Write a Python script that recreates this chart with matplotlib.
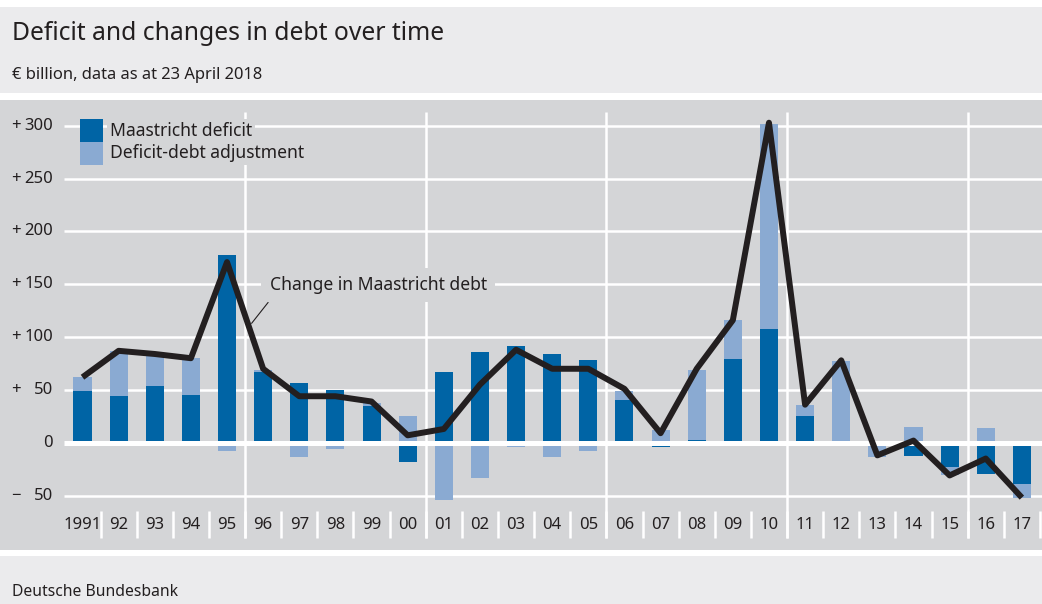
import matplotlib
matplotlib.use("Agg")
import matplotlib.pyplot as plt
import matplotlib.transforms as mtransforms
from matplotlib.patches import Rectangle
import numpy as np

plt.rcParams['font.family'] = ['Noto Sans', 'DejaVu Sans']

# data (EUR bn)
years = np.arange(1991, 2018)
year_labels = ["1991"] + ["%02d" % (y % 100) for y in years[1:]]
deficit = np.array([49, 44, 54, 45, 178, 67, 57, 50, 35, -18, 67, 86, 92, 84, 78,
                    40, -4, 3, 79, 108, 25, 0, 2, -13, -23, -30, -39])
adjustment = np.array([13, 43, 29, 35, -8, 2, -14, -6, 3, 25, -54, -33, -4, -14, -8,
                       9, 12, 66, 37, 194, 11, 77, -14, 15, -8, 14, -13])
debt_change = np.array([62, 87, 84, 80, 171, 70, 44, 44, 39, 7, 13, 55, 88, 70, 70,
                        51, 9, 70, 116, 303, 36, 78, -12, 2, -31, -15, -52])
yticks = [-50, 0, 50, 100, 150, 200, 250, 300]

DARK = "#0064a5"
LIGHT = "#8aaad2"
PLOT_BG = "#d4d5d7"
BAND = "#ebebed"
TXT = "#231f20"

W, H = 1042, 604
fig = plt.figure(figsize=(W / 100, H / 100), dpi=100)
fig.patch.set_facecolor("white")

# header and footer bands
fig.add_artist(Rectangle((0, 1 - 93 / H), 1, 86 / H, transform=fig.transFigure,
                         facecolor=BAND, edgecolor="none", zorder=0))
fig.add_artist(Rectangle((0, 0), 1, 48 / H, transform=fig.transFigure,
                         facecolor=BAND, edgecolor="none", zorder=0))
fig.text(12 / W, 1 - 33 / H, "Deficit and changes in debt over time", fontsize=17.8,
         color=TXT, va="center", ha="left")
fig.text(12 / W, 1 - 75 / H, "€ billion, data as at 23 April 2018", fontsize=11.9,
         color=TXT, va="center", ha="left")
fig.text(12 / W, 1 - 592 / H, "Deutsche Bundesbank", fontsize=11.3,
         color=TXT, va="center", ha="left")

ax = fig.add_axes([0, 54 / H, 1, 450 / H])
ax.set_facecolor(PLOT_BG)
for s in ax.spines.values():
    s.set_visible(False)
ax.set_xticks([])
ax.set_yticks([])

px_per_year = 36.13
x0 = 1991 - 82.5 / px_per_year
ax.set_xlim(x0, x0 + W / px_per_year)
ax.set_ylim(-101.6, 324.5)

# grid
for v in yticks:
    if v == 0:
        continue
    ax.hlines(v, 1990.5, 2020, color="white", lw=1.8, zorder=1)
for b in [1995.5, 2000.5, 2005.5, 2010.5, 2015.5]:
    ax.vlines(b, -89.8, 313, color="white", lw=1.8, zorder=1)
for b in years + 0.5:
    ax.vlines(b, -89.8, -64.7, color="white", lw=1.8, zorder=1)

# bars
ax.bar(years, deficit, width=0.5, color=DARK, zorder=2)
same_sign = np.sign(adjustment) == np.sign(deficit)
bottom = np.where(same_sign, deficit, 0)
ax.bar(years, adjustment, width=0.5, bottom=bottom, color=LIGHT, zorder=2)

ax.hlines(0, 1990.5, 2020, color="white", lw=3.6, zorder=3)

# line
ax.plot(years, debt_change, color=TXT, lw=4.3, solid_joinstyle="round",
        solid_capstyle="butt", zorder=5)

# y tick labels
tr = mtransforms.blended_transform_factory(ax.transAxes, ax.transData)
for v in yticks:
    ax.text(53 / W, v, str(abs(v)), transform=tr, ha="right", va="center",
            fontsize=12, color=TXT)
    if v != 0:
        ax.text(11 / W, v, "+" if v > 0 else "\u2212", transform=tr, ha="left",
                va="center", fontsize=12, color=TXT)

# x labels
for y, lab in zip(years, year_labels):
    ax.text(y, -77.5, lab, ha="center", va="center", fontsize=12, color=TXT)

# legend
ax.add_patch(Rectangle((1990.93, 285.1), 0.64, 21.2, facecolor=DARK, edgecolor="none", zorder=6))
ax.add_patch(Rectangle((1990.93, 263.3), 0.64, 21.8, facecolor=LIGHT, edgecolor="none", zorder=6))
ax.text(1991.76, 295.5, "Maastricht deficit", ha="left", va="center", fontsize=12.6,
        color=TXT, zorder=6,
        bbox=dict(facecolor=PLOT_BG, edgecolor="none", pad=2))
ax.text(1991.76, 274, "Deficit-debt adjustment", ha="left", va="center",
        fontsize=12.6, color=TXT, zorder=6,
        bbox=dict(facecolor=PLOT_BG, edgecolor="none", pad=2))

# annotation
ax.annotate("Change in Maastricht debt", xy=(1995.68, 113), xytext=(1996.18, 149.3),
            ha="left", va="center", fontsize=12.6, color=TXT, zorder=6,
            bbox=dict(facecolor=PLOT_BG, edgecolor="none", pad=6),
            arrowprops=dict(arrowstyle="-", color=TXT, lw=0.8,
                            shrinkA=0, shrinkB=0, relpos=(0.03, 0.1)))

fig.savefig("out.png", dpi=100, facecolor=fig.get_facecolor())
